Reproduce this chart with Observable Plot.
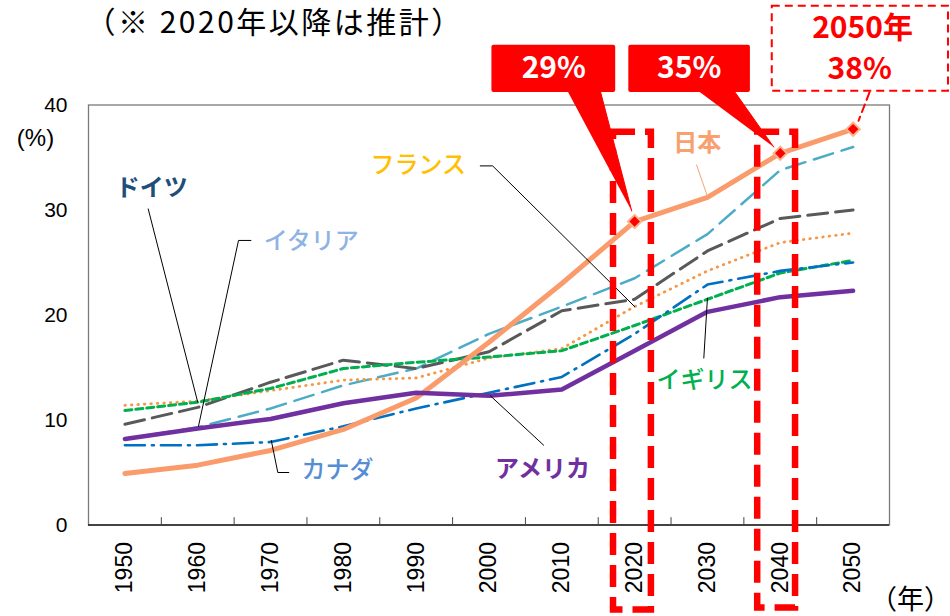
<!DOCTYPE html>
<html>
<head>
<meta charset="utf-8">
<script src="https://cdn.jsdelivr.net/npm/d3@7"></script>
<script src="https://cdn.jsdelivr.net/npm/@observablehq/plot@0.6"></script>
<style>
  html, body { margin: 0; padding: 0; background: #fff; }
  #chart { width: 950px; height: 616px; }
</style>
</head>
<body>
<div id="chart"></div>
<script>
// ---- data (share of population aged 65+, %) ----
const years = [1950, 1960, 1970, 1980, 1990, 2000, 2010, 2020, 2030, 2040, 2050];
const japan   = [4.9, 5.7, 7.1, 9.1, 12.1, 17.4, 23.0, 28.9, 31.2, 35.4, 37.7];
const usa     = [8.2, 9.2, 10.1, 11.6, 12.6, 12.3, 12.9, 16.6, 20.3, 21.7, 22.3];
const canada  = [7.6, 7.6, 7.9, 9.4, 11.1, 12.6, 14.1, 18.2, 22.9, 24.2, 25.0];
const uk      = [10.9, 11.7, 13.0, 14.9, 15.5, 16.0, 16.6, 19.0, 21.5, 24.0, 25.2];
const france  = [11.4, 11.8, 12.8, 13.8, 14.0, 15.9, 16.8, 20.8, 24.2, 26.9, 27.8];
const italy   = [8.2, 9.3, 11.1, 13.3, 14.9, 18.2, 20.8, 23.5, 27.7, 33.8, 36.0];
const germany = [9.6, 11.2, 13.6, 15.7, 14.9, 16.5, 20.4, 21.5, 26.1, 29.2, 30.0];
const yTicks = [0, 10, 20, 30, 40];
const categoryBounds = [1955, 1965, 1975, 1985, 1995, 2005, 2015, 2025, 2035, 2045];
const highlightYears = [2020, 2040, 2050];
const calloutTexts = ["29%", "35%"];
const titleText = "（※ 2020年以降は推計）";

// ---- series table ----
const series = [
  {name: "ドイツ", values: germany},
  {name: "イタリア", values: italy},
  {name: "フランス", values: france},
  {name: "イギリス", values: uk},
  {name: "カナダ", values: canada},
  {name: "日本", values: japan},
  {name: "アメリカ", values: usa}
];
const rows = series.flatMap(s => years.map((yr, i) => ({country: s.name, year: yr, value: s.values[i]})));
const of = name => rows.filter(d => d.country === name);
const markers = highlightYears.map(yr => ({year: yr, value: japan[years.indexOf(yr)]}));

// ---- annotation geometry (in data units: year, %) ----
const dashedBoxes = [
  {x1: 2017.1, x2: 2022.3, y1: -8.1, y2: 37.4},
  {x1: 2036.9, x2: 2042.1, y1: -7.9, y2: 37.4}
];
const calloutBoxes = [
  {x1: 2000.4, x2: 2017.4, y1: 41.2, y2: 45.7, label: calloutTexts[0], cx: 2008.9},
  {x1: 2019.2, x2: 2035.9, y1: 41.2, y2: 45.7, label: calloutTexts[1], cx: 2027.5}
];
const calloutTails = [
  {id: "a", x: 2010.8, y: 41.3}, {id: "a", x: 2015.3, y: 41.3}, {id: "a", x: 2019.6, y: 29.9},
  {id: "b", x: 2028.8, y: 41.3}, {id: "b", x: 2033.7, y: 41.3}, {id: "b", x: 2039.1, y: 36.0}
];
const leaders = [
  {id: "de", x: 1953.2, y: 30.1}, {id: "de", x: 1960.0, y: 11.7},
  {id: "it", x: 1967.3, y: 27.1}, {id: "it", x: 1965.6, y: 27.1}, {id: "it", x: 1960.1, y: 9.4},
  {id: "fr", x: 1998.8, y: 34.2}, {id: "fr", x: 2000.5, y: 34.2}, {id: "fr", x: 2020.0, y: 20.8},
  {id: "uk", x: 2029.5, y: 15.9}, {id: "uk", x: 2030.0, y: 21.6},
  {id: "ca", x: 1972.5, y: 5.0}, {id: "ca", x: 1971.0, y: 5.0}, {id: "ca", x: 1970.1, y: 8.05},
  {id: "us", x: 2007.5, y: 7.6}, {id: "us", x: 2000.2, y: 12.3}
];
const jpLeader = [{x: 2028.5, y: 34.3}, {x: 2030.0, y: 31.3}];
const labels = [
  {text: "ドイツ", x: 1953.7, y: 32.05, color: "#1F4E79", weight: "bold"},
  {text: "イタリア", x: 1975.6, y: 27.0, color: "#8EB4E3", weight: "normal"},
  {text: "フランス", x: 1990.3, y: 34.24, color: "#FFC000", weight: "normal"},
  {text: "日本", x: 2028.6, y: 36.33, color: "#F9A070", weight: "bold"},
  {text: "イギリス", x: 2029.6, y: 13.76, color: "#00B050", weight: "normal"},
  {text: "カナダ", x: 1979.2, y: 5.19, color: "#558ED5", weight: "normal"},
  {text: "アメリカ", x: 2007.35, y: 5.29, color: "#7030A0", weight: "bold"}
];
const box2050 = [{x1: 2038.9, x2: 2063.1, y1: 41.3, y2: 49.4}];
const conn2050 = [{x: 2052.25, y: 41.2}, {x: 2050.75, y: 38.5}];
const text2050 = [{t: "2050年", x: 2051.3, y: 47.3}, {t: "38%", x: 2050.9, y: 43.4}];

const CJK = "'Noto Sans CJK JP', 'Noto Sans', sans-serif";

const chart = Plot.plot({
  width: 950,
  height: 616,
  marginLeft: 88,
  marginRight: 61,
  marginTop: 104.5,
  marginBottom: 91.5,
  x: {type: "linear", domain: [1945, 2055]},
  y: {domain: [0, 40]},
  style: {fontFamily: "'Liberation Sans', Arial, sans-serif", background: "#fff", overflow: "visible", color: "#000"},
  marks: [
    Plot.frame({stroke: "#7a7a7a", strokeWidth: 1.3}),
    Plot.ruleY([0], {stroke: "#222", strokeWidth: 1.5}),
    Plot.ruleX(categoryBounds, {y1: 0, y2: 0.7, stroke: "#444"}),
    Plot.axisY({ticks: yTicks, tickSize: 0, tickPadding: 21, fontSize: 21, label: null}),
    Plot.axisX({ticks: years, tickSize: 0, tickRotate: -90, tickPadding: 17, fontSize: 23, label: null, tickFormat: d => String(d)}),
    // series lines
    Plot.line(of("イタリア"), {x: "year", y: "value", stroke: "#4BACC6", strokeWidth: 2.5, strokeDasharray: "20 9"}),
    Plot.line(of("ドイツ"), {x: "year", y: "value", stroke: "#595959", strokeWidth: 3, strokeDasharray: "20 8"}),
    Plot.line(of("フランス"), {x: "year", y: "value", stroke: "#F79646", strokeWidth: 2.8, strokeDasharray: "0.5 6", strokeLinecap: "round"}),
    Plot.line(of("イギリス"), {x: "year", y: "value", stroke: "#00B050", strokeWidth: 3, strokeDasharray: "7 4"}),
    Plot.line(of("カナダ"), {x: "year", y: "value", stroke: "#0070C0", strokeWidth: 2.6, strokeDasharray: "20 7 2 7"}),
    Plot.line(of("日本"), {x: "year", y: "value", stroke: "#FA9B6B", strokeWidth: 5}),
    Plot.line(of("アメリカ"), {x: "year", y: "value", stroke: "#7030A0", strokeWidth: 4.5}),
    // leader lines
    Plot.line(leaders, {x: "x", y: "y", z: "id", stroke: "#000", strokeWidth: 1}),
    Plot.line(jpLeader, {x: "x", y: "y", stroke: "#F9A070", strokeWidth: 1}),
    // country labels
    Plot.text(labels.filter(d => d.weight === "normal"), {x: "x", y: "y", text: "text", fill: d => d.color, fontWeight: 500, fontSize: 24, fontFamily: CJK}),
    Plot.text(labels.filter(d => d.weight === "bold"), {x: "x", y: "y", text: "text", fill: d => d.color, fontWeight: "bold", fontSize: 24, fontFamily: CJK}),
    // highlight boxes
    Plot.rect(dashedBoxes, {x1: "x1", x2: "x2", y1: "y1", y2: "y2", fill: "none", stroke: "#ff0000", strokeWidth: 6.5, strokeDasharray: "22 10"}),
    // callouts
    Plot.line(calloutTails, {x: "x", y: "y", z: "id", fill: "#ff0000", stroke: "#ff0000", strokeWidth: 1}),
    Plot.rect(calloutBoxes, {x1: "x1", x2: "x2", y1: "y1", y2: "y2", fill: "#ff0000", rx: 2}),
    Plot.text(calloutBoxes, {x: "cx", y: 43.48, text: "label", fill: "#fff", fontWeight: "bold", fontSize: 30, fontFamily: CJK}),
    Plot.rect(box2050, {x1: "x1", x2: "x2", y1: "y1", y2: "y2", fill: "none", stroke: "#ff0000", strokeWidth: 2, strokeDasharray: "8 5"}),
    Plot.line(conn2050, {x: "x", y: "y", stroke: "#ff0000", strokeWidth: 2, strokeDasharray: "8 5"}),
    Plot.text(text2050, {x: "x", y: "y", text: "t", fill: "#ff0000", fontWeight: "bold", fontSize: 30, fontFamily: CJK}),
    // markers
    Plot.dot(markers, {x: "year", y: "value", symbol: "diamond2", r: 6, fill: "#ff0000", stroke: "#FDB38A", strokeWidth: 2}),
    // title and unit labels
    Plot.text([titleText], {frameAnchor: "top-left", dx: -3, dy: -81.5, textAnchor: "start", lineAnchor: "middle", fontSize: 30, fontFamily: CJK, fill: "#000"}),
    Plot.text(["(%)"], {frameAnchor: "top-left", dx: -53, dy: 33, textAnchor: "middle", lineAnchor: "middle", fontSize: 24, fill: "#000"}),
    Plot.text(["（年）"], {frameAnchor: "bottom-right", dx: 21, dy: 75.5, textAnchor: "middle", lineAnchor: "middle", fontSize: 27, fontFamily: CJK, fill: "#000"})
  ]
});
// widen the title's letter spacing to match the reference's wider set text
d3.select(chart).selectAll("text").filter(function () { return this.textContent === titleText; })
  .style("letter-spacing", "2.5px");
document.getElementById("chart").append(chart);
</script>
</body>
</html>
